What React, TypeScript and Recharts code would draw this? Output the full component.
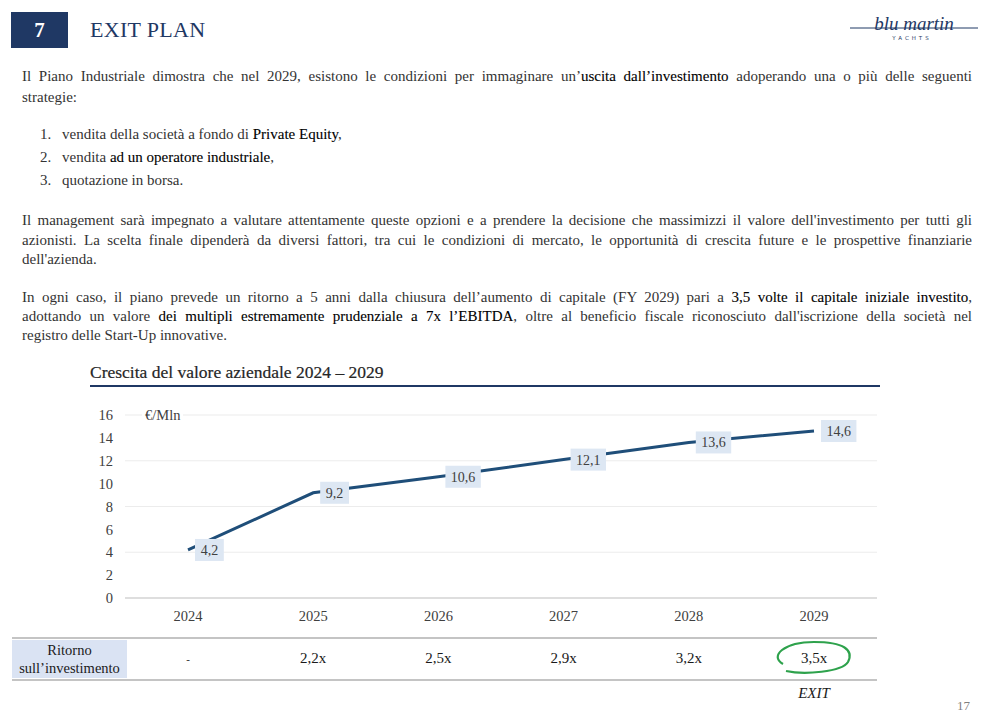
import React from 'react';
import { LineChart, Line, XAxis, YAxis, CartesianGrid, LabelList } from 'recharts';

const years = ['2024', '2025', '2026', '2027', '2028', '2029'];
const enterpriseValue = [4.2, 9.2, 10.6, 12.1, 13.6, 14.6];
const roiValues = ['-', '2,2x', '2,5x', '2,9x', '3,2x', '3,5x'];
const yTicks = [0, 2, 4, 6, 8, 10, 12, 14, 16];
const exitYear = '2029';

const chartData = years.map((year, i) => ({ year, value: enterpriseValue[i], roi: roiValues[i] }));

const NAVY = '#1f3864';
const LINE_BLUE = '#1f4e79';
const TEXT = '#333333';
const FONT = '"Liberation Serif", "Times New Roman", serif';

type Seg = [string, boolean?];
type TextLine = { y: number; justify?: boolean; segs: Seg[] };

const bodyLines: TextLine[] = [
  {
    y: 76,
    justify: true,
    segs: [
      ['Il Piano Industriale dimostra che nel 2029, esistono le condizioni per immaginare un\u2019'],
      ['uscita dall\u2019investimento', true],
      [' adoperando una o più delle seguenti'],
    ],
  },
  { y: 97, segs: [['strategie:']] },
  { y: 220, justify: true, segs: [['Il management sarà impegnato a valutare attentamente queste opzioni e a prendere la decisione che massimizzi il valore dell\'investimento per tutti gli']] },
  { y: 240, justify: true, segs: [['azionisti. La scelta finale dipenderà da diversi fattori, tra cui le condizioni di mercato, le opportunità di crescita future e le prospettive finanziarie']] },
  { y: 259, segs: [['dell\'azienda.']] },
  {
    y: 297,
    justify: true,
    segs: [
      ['In ogni caso, il piano prevede un ritorno a 5 anni dalla chiusura dell\u2019aumento di capitale (FY 2029) pari a '],
      ['3,5 volte il capitale iniziale investito', true],
      [','],
    ],
  },
  {
    y: 316,
    justify: true,
    segs: [
      ['adottando un valore '],
      ['dei multipli estremamente prudenziale a 7x l\u2019EBITDA', true],
      [', oltre al beneficio fiscale riconosciuto dall\'iscrizione della società nel'],
    ],
  },
  { y: 335, segs: [['registro delle Start-Up innovative.']] },
];

const listItems: { n: string; y: number; segs: Seg[] }[] = [
  { n: '1.', y: 134, segs: [['vendita della società a fondo di '], ['Private Equity', true], [',']] },
  { n: '2.', y: 157, segs: [['vendita '], ['ad un operatore industriale', true], [',']] },
  { n: '3.', y: 180, segs: [['quotazione in borsa.']] },
];

const renderSegs = (segs: Seg[]) =>
  segs.map(([t, b], i) => (
    <span key={i} style={b ? { color: '#000', WebkitTextStroke: '0.1px #000' } : undefined}>
      {t}
    </span>
  ));

const ValueLabel = (props: any) => {
  const { x, y, value } = props;
  const text = String(value).replace('.', ',');
  const w = 9 + text.length * 6.6;
  return (
    <g>
      <rect x={x + 7} y={y - 11} width={w} height={22} fill="#dde7f3" />
      <text x={x + 7 + w / 2} y={y + 5} textAnchor="middle" fontFamily={FONT} fontSize={14} fill="#404040">
        {text}
      </text>
    </g>
  );
};

const YearTick = (props: any) => {
  const { x, y, payload } = props;
  const i = years.indexOf(payload.value);
  const roi = roiValues[i];
  const isExit = payload.value === exitYear;
  return (
    <g>
      <text x={x} y={y + 23} textAnchor="middle" fontFamily={FONT} fontSize={14.5} fill="#404040">
        {payload.value}
      </text>
      <text x={x} y={y + 65} textAnchor="middle" fontFamily={FONT} fontSize={roi === '-' ? 11 : 15} fill="#1a1a1a">
        {roi}
      </text>
      {isExit && (
        <>
          <path
            d={`M ${x - 31} ${y + 66} C ${x - 45} ${y + 58}, ${x - 30} ${y + 44}, ${x} ${y + 44} C ${x + 30} ${y + 44}, ${x + 40} ${y + 52}, ${x + 34} ${y + 64} C ${x + 28} ${y + 74}, ${x - 10} ${y + 77}, ${x - 28} ${y + 73}`}
            fill="none"
            stroke="#2ea24c"
            strokeWidth={2.2}
          />
          <text x={x} y={y + 100} textAnchor="middle" fontFamily={FONT} fontSize={15} fontStyle="italic" fill="#1a1a1a">
            EXIT
          </text>
        </>
      )}
    </g>
  );
};

export default function App() {
  return (
    <div style={{ position: 'absolute', left: 0, top: 0, width: 990, height: 720, background: '#fff', fontFamily: FONT, color: TEXT, overflow: 'hidden' }}>
      {/* header */}
      <div style={{ position: 'absolute', left: 11, top: 12, width: 57, height: 36, background: NAVY, color: '#fff', fontSize: 21, fontWeight: 'bold', lineHeight: '36px', textAlign: 'center' }}>
        7
      </div>
      <div style={{ position: 'absolute', left: 90, top: 16, fontSize: 22, color: NAVY, lineHeight: '28px', letterSpacing: 0.3 }}>EXIT PLAN</div>

      {/* logo */}
      <svg style={{ position: 'absolute', left: 840, top: 10 }} width={145} height={40}>
        <line x1={10} y1={18} x2={138} y2={18} stroke={NAVY} strokeWidth={1} />
        <text x={74} y={20} textAnchor="middle" fontFamily={FONT} fontStyle="italic" fontSize={19} fill={NAVY}>
          blu martin
        </text>
        <text x={72} y={30} textAnchor="middle" fontFamily='"DejaVu Sans", sans-serif' fontSize={5.5} letterSpacing={3} fill={NAVY}>
          YACHTS
        </text>
      </svg>

      {/* body text */}
      {bodyLines.map((l, i) => (
        <div
          key={i}
          style={{
            position: 'absolute',
            left: 22,
            top: l.y - 10,
            width: 950,
            fontSize: 15,
            lineHeight: '20px',
            whiteSpace: 'nowrap',
            textAlign: l.justify ? 'justify' : 'left',
            textAlignLast: l.justify ? 'justify' : 'left',
          }}
        >
          {renderSegs(l.segs)}
        </div>
      ))}
      {listItems.map((it) => (
        <React.Fragment key={it.n}>
          <div style={{ position: 'absolute', left: 40, top: it.y - 10, fontSize: 15, lineHeight: '20px' }}>{it.n}</div>
          <div style={{ position: 'absolute', left: 62, top: it.y - 10, fontSize: 15, lineHeight: '20px', whiteSpace: 'nowrap' }}>{renderSegs(it.segs)}</div>
        </React.Fragment>
      ))}

      {/* chart title */}
      <div style={{ position: 'absolute', left: 90, top: 360, fontSize: 17.5, lineHeight: '24px', color: '#262626', WebkitTextStroke: '0.2px #262626' }}>
        Crescita del valore aziendale 2024 – 2029
      </div>
      <div style={{ position: 'absolute', left: 90, top: 385, width: 790, height: 1.5, background: NAVY }} />

      {/* table rules and header cell */}
      <div style={{ position: 'absolute', left: 12, top: 637, width: 865, height: 2, background: '#c4c4c4' }} />
      <div style={{ position: 'absolute', left: 12, top: 679, width: 865, height: 2, background: '#c4c4c4' }} />
      <div
        style={{
          position: 'absolute',
          left: 12,
          top: 640,
          width: 115,
          height: 37,
          background: '#dae3f3',
          fontSize: 14.5,
          lineHeight: '18px',
          textAlign: 'center',
          color: '#1a1a1a',
          paddingTop: 1,
        }}
      >
        Ritorno
        <br />
        sull’investimento
      </div>

      <div style={{ position: 'absolute', left: 0, top: 380 }}>
        <LineChart width={900} height={330} data={chartData} margin={{ top: 35, right: 23, left: 0, bottom: 0 }}>
          <CartesianGrid vertical={false} stroke="#ececec" strokeWidth={1.2} />
          <XAxis
            dataKey="year"
            height={112}
            padding={{ left: 63, right: 63 }}
            axisLine={{ stroke: '#d6d6d6', strokeWidth: 1.5 }}
            tickLine={false}
            tickSize={0}
            tickMargin={0}
            interval={0}
            tick={<YearTick />}
          />
          <YAxis
            width={125}
            domain={[0, 16]}
            ticks={yTicks}
            axisLine={false}
            tickLine={false}
            tickSize={0}
            tickMargin={12}
            tick={{ fontFamily: FONT, fontSize: 14.5, fill: '#404040' }}
          />
          <Line
            type="linear"
            dataKey="value"
            stroke={LINE_BLUE}
            strokeWidth={3}
            dot={false}
            activeDot={false}
            isAnimationActive={false}
          >
            <LabelList dataKey="value" content={<ValueLabel />} />
          </Line>
        </LineChart>
      </div>

      {/* unit label */}
      <div style={{ position: 'absolute', left: 142, top: 405, padding: '0 3px', background: '#fff', fontSize: 14.5, lineHeight: '20px', color: '#404040' }}>
        €/Mln
      </div>

      {/* page number */}
      <div style={{ position: 'absolute', left: 957, top: 698, fontSize: 13, lineHeight: '16px', color: '#808080' }}>17</div>
    </div>
  );
}
